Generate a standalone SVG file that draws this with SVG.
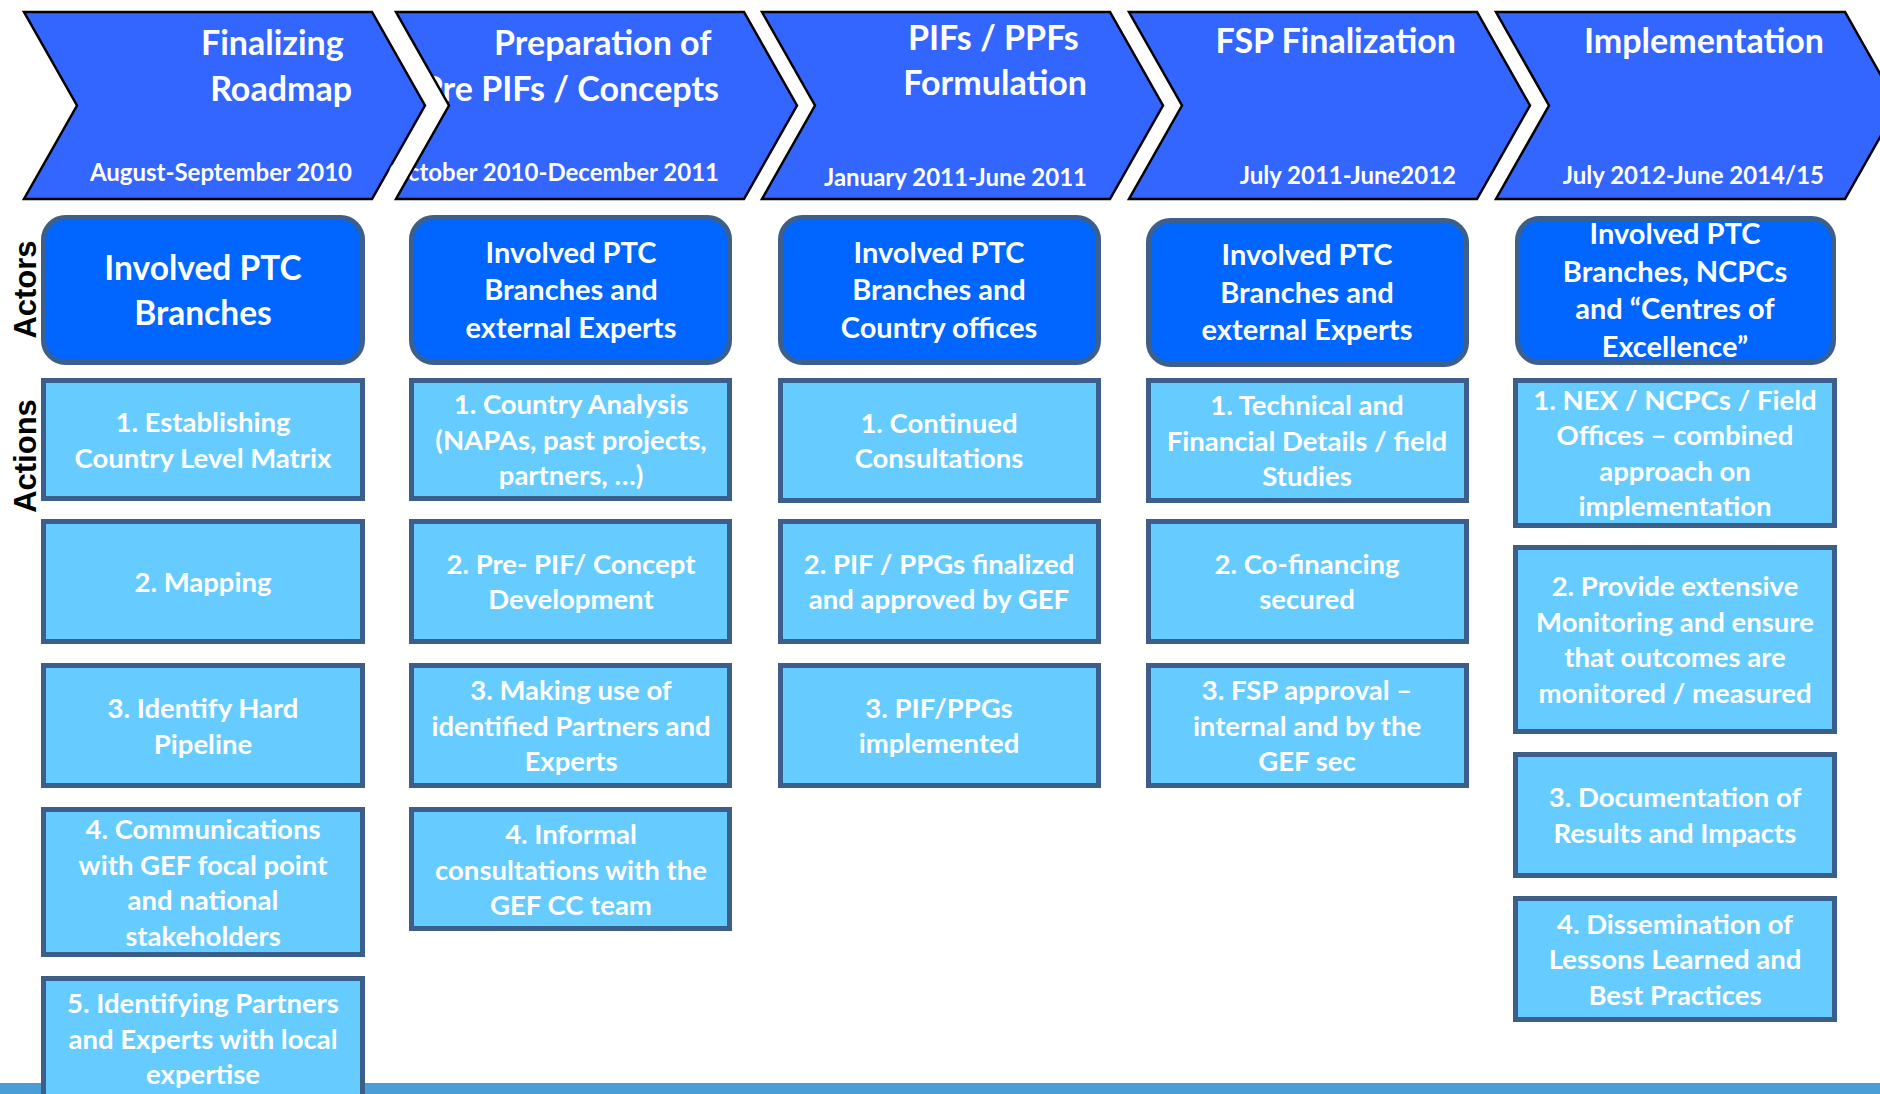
<svg xmlns="http://www.w3.org/2000/svg" width="1880" height="1094" viewBox="0 0 1880 1094">
<style>
.chev{fill:#3366FF;stroke:none}
.chevline{fill:none;stroke:#000;stroke-width:2.5;stroke-linejoin:miter}
.t{font-family:Lato,'Open Sans','Liberation Sans',sans-serif;font-weight:700;fill:#fff}
.title{font-size:34px;text-anchor:end}
.date{font-size:24px;text-anchor:end}
.actor rect{fill:#0066FF;stroke:#3D5F8C;stroke-width:5}
.act rect{fill:#66CCFF;stroke:#3C5E8B;stroke-width:5}
.at{font-size:29px;text-anchor:middle}
.at1{font-size:33.5px;text-anchor:middle}
.bt{font-size:27.5px;text-anchor:middle}
.side{font-family:'Liberation Sans',Arial,sans-serif;font-weight:700;font-size:31px;fill:#000;text-anchor:middle}
</style>
<rect x="0" y="0" width="1880" height="1094" fill="#fff"/>

<!-- Phase chevrons -->
<g id="phase1">
<polygon class="chev" points="24,12 372,12 425,105.5 372,199 24,199 77,105.5"/>
<text class="t title" x="352" y="55">Finalizing&#160;</text>
<text class="t title" x="352" y="101">Roadmap</text>
<text class="t date" x="352" y="180.5">August-September 2010</text>
<polygon class="chevline" points="24,12 372,12 425,105.5 372,199 24,199 77,105.5"/>
</g>
<g id="phase2">
<polygon class="chev" points="396,12 744,12 797,105.5 744,199 396,199 449,105.5"/>
<text class="t title" x="719" y="55">Preparation of&#160;</text>
<text class="t title" x="719" y="101">Pre PIFs / Concepts</text>
<text class="t date" x="719" y="180.5">October 2010-December 2011</text>
<polygon class="chevline" points="396,12 744,12 797,105.5 744,199 396,199 449,105.5"/>
</g>
<g id="phase3">
<polygon class="chev" points="762,12 1110,12 1163,105.5 1110,199 762,199 815,105.5"/>
<text class="t title" x="1087" y="50">PIFs / PPFs&#160;</text>
<text class="t title" x="1087" y="95">Formulation</text>
<text class="t date" x="1087" y="186">January 2011-June 2011</text>
<polygon class="chevline" points="762,12 1110,12 1163,105.5 1110,199 762,199 815,105.5"/>
</g>
<g id="phase4">
<polygon class="chev" points="1129,12 1477,12 1530,105.5 1477,199 1129,199 1182,105.5"/>
<text class="t title" x="1456" y="53">FSP Finalization</text>
<text class="t date" x="1456" y="183.5">July 2011-June2012</text>
<polygon class="chevline" points="1129,12 1477,12 1530,105.5 1477,199 1129,199 1182,105.5"/>
</g>
<g id="phase5">
<polygon class="chev" points="1496,12 1845,12 1898,105.5 1845,199 1496,199 1549,105.5"/>
<text class="t title" x="1824" y="53">Implementation</text>
<text class="t date" x="1824" y="183.5">July 2012-June 2014/15</text>
<polygon class="chevline" points="1496,12 1845,12 1898,105.5 1845,199 1496,199 1549,105.5"/>
</g>

<!-- Row labels -->
<g id="label-actors"><text class="side" transform="translate(36,289.5) rotate(-90)">Actors</text></g>
<g id="label-actions"><text class="side" transform="translate(36,456) rotate(-90)">Actions</text></g>

<!-- bottom bar -->
<rect id="bottom-bar" x="0" y="1083" width="1880" height="11" fill="#4A9ED8"/>

<!-- Actors -->
<g id="actor1" class="actor">
<rect x="43.5" y="217.5" width="319" height="145" rx="22"/>
<text class="t at1" x="203" y="280">Involved PTC</text>
<text class="t at1" x="203" y="325">Branches</text>
</g>
<g id="actor2" class="actor">
<rect x="411.5" y="217.5" width="318" height="145" rx="22"/>
<text class="t at" x="571" y="262.5">Involved PTC</text>
<text class="t at" x="571" y="300">Branches and</text>
<text class="t at" x="571" y="337.5">external Experts</text>
</g>
<g id="actor3" class="actor">
<rect x="780.5" y="217.5" width="318" height="145" rx="22"/>
<text class="t at" x="939" y="262.5">Involved PTC</text>
<text class="t at" x="939" y="300">Branches and</text>
<text class="t at" x="939" y="337.5">Country offices</text>
</g>
<g id="actor4" class="actor">
<rect x="1148.5" y="220.5" width="318" height="144" rx="22"/>
<text class="t at" x="1307" y="265">Involved PTC</text>
<text class="t at" x="1307" y="302.5">Branches and</text>
<text class="t at" x="1307" y="340">external Experts</text>
</g>
<g id="actor5" class="actor">
<rect x="1517.5" y="218.5" width="316" height="144" rx="22"/>
<text class="t at" x="1675" y="244">Involved PTC</text>
<text class="t at" x="1675" y="281.5">Branches, NCPCs</text>
<text class="t at" x="1675" y="319">and “Centres of</text>
<text class="t at" x="1675" y="356.5">Excellence”</text>
</g>

<!-- Column 1 actions -->
<g id="c1a1" class="act">
<rect x="43.5" y="380.5" width="319" height="118"/>
<text class="t bt" x="203" y="432">1. Establishing</text>
<text class="t bt" x="203" y="467.5">Country Level Matrix</text>
</g>
<g id="c1a2" class="act">
<rect x="43.5" y="521.5" width="319" height="120"/>
<text class="t bt" x="203" y="591.5">2. Mapping</text>
</g>
<g id="c1a3" class="act">
<rect x="43.5" y="665.5" width="319" height="120"/>
<text class="t bt" x="203" y="718">3. Identify Hard</text>
<text class="t bt" x="203" y="753.5">Pipeline</text>
</g>
<g id="c1a4" class="act">
<rect x="43.5" y="809.5" width="319" height="145"/>
<text class="t bt" x="203" y="839">4. Communications</text>
<text class="t bt" x="203" y="874.5">with GEF focal point</text>
<text class="t bt" x="203" y="910">and national</text>
<text class="t bt" x="203" y="945.5">stakeholders</text>
</g>
<g id="c1a5" class="act">
<rect x="43.5" y="978.5" width="319" height="150"/>
<text class="t bt" x="203" y="1013">5. Identifying Partners</text>
<text class="t bt" x="203" y="1048.5">and Experts with local</text>
<text class="t bt" x="203" y="1084">expertise</text>
</g>

<!-- Column 2 actions -->
<g id="c2a1" class="act">
<rect x="411.5" y="380.5" width="318" height="118"/>
<text class="t bt" x="571" y="414">1. Country Analysis</text>
<text class="t bt" x="571" y="449.5">(NAPAs, past projects,</text>
<text class="t bt" x="571" y="485">partners, …)</text>
</g>
<g id="c2a2" class="act">
<rect x="411.5" y="521.5" width="318" height="120"/>
<text class="t bt" x="571" y="573.75">2. Pre- PIF/ Concept</text>
<text class="t bt" x="571" y="609.25">Development</text>
</g>
<g id="c2a3" class="act">
<rect x="411.5" y="665.5" width="318" height="120"/>
<text class="t bt" x="571" y="700">3. Making use of</text>
<text class="t bt" x="571" y="735.5">identified Partners and</text>
<text class="t bt" x="571" y="771">Experts</text>
</g>
<g id="c2a4" class="act">
<rect x="411.5" y="809.5" width="318" height="119"/>
<text class="t bt" x="571" y="844">4. Informal</text>
<text class="t bt" x="571" y="879.5">consultations with the</text>
<text class="t bt" x="571" y="915">GEF CC team</text>
</g>

<!-- Column 3 actions -->
<g id="c3a1" class="act">
<rect x="780.5" y="380.5" width="318" height="120"/>
<text class="t bt" x="939" y="432.75">1. Continued</text>
<text class="t bt" x="939" y="468.25">Consultations</text>
</g>
<g id="c3a2" class="act">
<rect x="780.5" y="521.5" width="318" height="120"/>
<text class="t bt" x="939" y="573.75">2. PIF / PPGs finalized</text>
<text class="t bt" x="939" y="609.25">and approved by GEF</text>
</g>
<g id="c3a3" class="act">
<rect x="780.5" y="665.5" width="318" height="120"/>
<text class="t bt" x="939" y="717.75">3. PIF/PPGs</text>
<text class="t bt" x="939" y="753.25">implemented</text>
</g>

<!-- Column 4 actions -->
<g id="c4a1" class="act">
<rect x="1148.5" y="380.5" width="318" height="120"/>
<text class="t bt" x="1307" y="415">1. Technical and</text>
<text class="t bt" x="1307" y="450.5">Financial Details / field</text>
<text class="t bt" x="1307" y="486">Studies</text>
</g>
<g id="c4a2" class="act">
<rect x="1148.5" y="521.5" width="318" height="120"/>
<text class="t bt" x="1307" y="573.75">2. Co-financing</text>
<text class="t bt" x="1307" y="609.25">secured</text>
</g>
<g id="c4a3" class="act">
<rect x="1148.5" y="665.5" width="318" height="120"/>
<text class="t bt" x="1307" y="700">3. FSP approval –</text>
<text class="t bt" x="1307" y="735.5">internal and by the</text>
<text class="t bt" x="1307" y="771">GEF sec</text>
</g>

<!-- Column 5 actions -->
<g id="c5a1" class="act">
<rect x="1515.5" y="380.5" width="319" height="145"/>
<text class="t bt" x="1675" y="409.75">1. NEX / NCPCs / Field</text>
<text class="t bt" x="1675" y="445.25">Offices – combined</text>
<text class="t bt" x="1675" y="480.75">approach on</text>
<text class="t bt" x="1675" y="516.25">implementation</text>
</g>
<g id="c5a2" class="act">
<rect x="1515.5" y="547.5" width="319" height="184"/>
<text class="t bt" x="1675" y="596.25">2. Provide extensive</text>
<text class="t bt" x="1675" y="631.75">Monitoring and ensure</text>
<text class="t bt" x="1675" y="667.25">that outcomes are</text>
<text class="t bt" x="1675" y="702.75">monitored / measured</text>
</g>
<g id="c5a3" class="act">
<rect x="1515.5" y="754.5" width="319" height="121"/>
<text class="t bt" x="1675" y="807.25">3. Documentation of</text>
<text class="t bt" x="1675" y="842.75">Results and Impacts</text>
</g>
<g id="c5a4" class="act">
<rect x="1515.5" y="898.5" width="319" height="121"/>
<text class="t bt" x="1675" y="933.5">4. Dissemination of</text>
<text class="t bt" x="1675" y="969">Lessons Learned and</text>
<text class="t bt" x="1675" y="1004.5">Best Practices</text>
</g>

<g id="connectors"></g>
</svg>
